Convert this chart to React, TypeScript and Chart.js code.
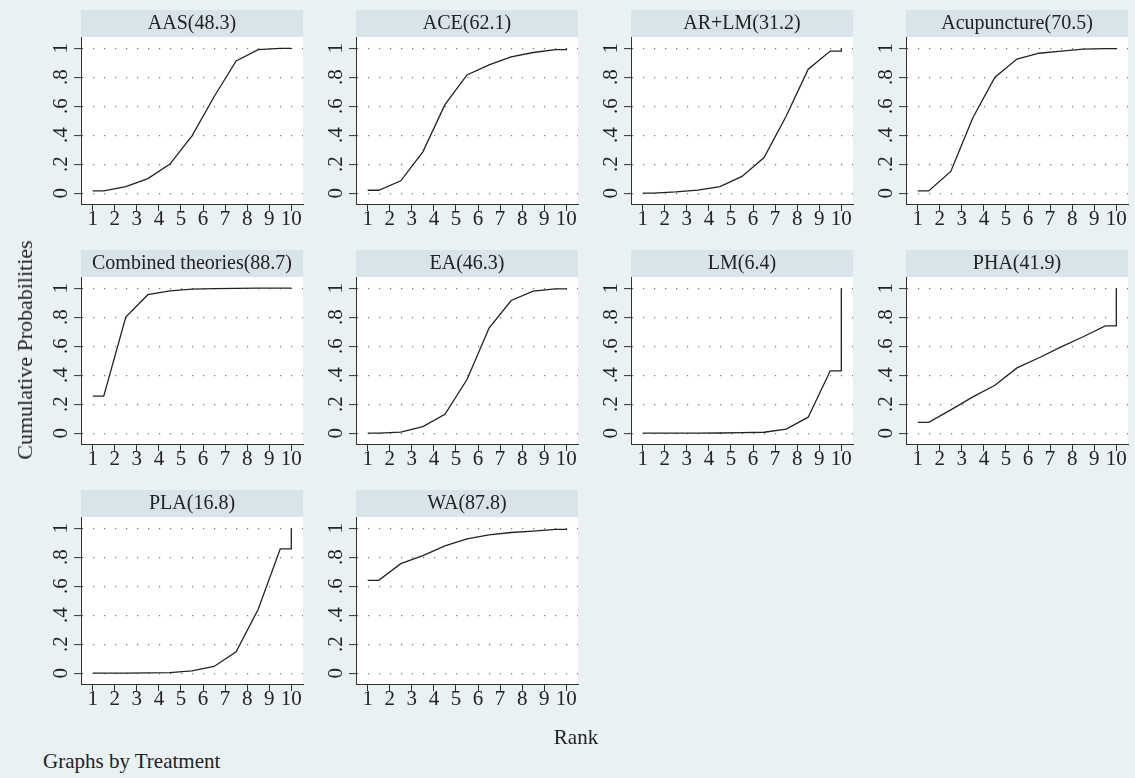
import React, { useEffect, useRef } from "react";
import { Chart, registerables } from "chart.js";

Chart.register(...registerables);

// ---------- data ----------
const treatments = ["AAS", "ACE", "AR+LM", "Acupuncture", "Combined theories", "EA", "LM", "PHA", "PLA", "WA"];
const sucraValues = [48.3, 62.1, 31.2, 70.5, 88.7, 46.3, 6.4, 41.9, 16.8, 87.8];
const ranks = [1, 2, 3, 4, 5, 6, 7, 8, 9, 10];

const cumAAS = [0.015, 0.045, 0.1, 0.2, 0.395, 0.665, 0.912, 0.99, 0.998, 1];
const cumACE = [0.02, 0.085, 0.285, 0.61, 0.815, 0.885, 0.94, 0.97, 0.99, 1];
const cumARLM = [0, 0.008, 0.02, 0.045, 0.115, 0.245, 0.53, 0.855, 0.98, 1];
const cumAcupuncture = [0.015, 0.15, 0.52, 0.8, 0.925, 0.965, 0.98, 0.993, 0.997, 1];
const cumCombined = [0.255, 0.8, 0.955, 0.982, 0.993, 0.997, 0.999, 1, 1, 1];
const cumEA = [0, 0.007, 0.045, 0.13, 0.37, 0.725, 0.915, 0.98, 0.995, 1];
const cumLM = [0, 0, 0, 0.001, 0.003, 0.006, 0.028, 0.11, 0.43, 1];
const cumPHA = [0.074, 0.16, 0.25, 0.33, 0.45, 0.52, 0.595, 0.665, 0.74, 1];
const cumPLA = [0, 0, 0.002, 0.004, 0.016, 0.046, 0.147, 0.441, 0.857, 1];
const cumWA = [0.64, 0.755, 0.811, 0.878, 0.926, 0.954, 0.97, 0.979, 0.991, 1];

const allCum = [cumAAS, cumACE, cumARLM, cumAcupuncture, cumCombined, cumEA, cumLM, cumPHA, cumPLA, cumWA];

const yTickValues = [0, 0.2, 0.4, 0.6, 0.8, 1];
const yTickLabels = ["0", ".2", ".4", ".6", ".8", "1"];

// ---------- style ----------
const FONT = "'Liberation Serif', 'Times New Roman', serif";
const BG = "#eaf1f3";
const STRIP = "#d8e4ea";
const INK = "#222222";
const AXIS = "#333333";
const COLS = 4;
const CW = 290;
const CH = 240;

function buildPoints(cum: number[]) {
  const pts: { x: number; y: number }[] = [];
  pts.push({ x: ranks[0], y: cum[0] });
  for (let i = 0; i < ranks.length - 1; i++) {
    pts.push({ x: ranks[i] + 0.5, y: cum[i] });
  }
  const last = ranks.length - 1;
  pts.push({ x: ranks[last], y: cum[last - 1] });
  pts.push({ x: ranks[last], y: cum[last] });
  return pts;
}

const panelBg = {
  id: "panelBg",
  beforeDraw(chart: any) {
    const { ctx, chartArea: a } = chart;
    const t = chart.titleBlock;
    ctx.save();
    if (t) {
      ctx.fillStyle = STRIP;
      ctx.fillRect(a.left, t.top, a.right - a.left, a.top - t.top);
    }
    ctx.fillStyle = "#ffffff";
    ctx.fillRect(a.left, a.top, a.right - a.left, a.bottom - a.top);
    ctx.restore();
  },
};

function Panel({ idx }: { idx: number }) {
  const ref = useRef<HTMLCanvasElement | null>(null);
  const row = Math.floor(idx / COLS);
  const col = idx % COLS;
  useEffect(() => {
    if (!ref.current) return;
    const chart = new Chart(ref.current, {
      type: "line",
      data: {
        datasets: [
          {
            data: buildPoints(allCum[idx]),
            borderColor: INK,
            borderWidth: 1.3,
            pointRadius: 0,
            tension: 0,
            fill: false,
          },
        ],
      },
      options: {
        animation: false,
        responsive: false,
        devicePixelRatio: 1,
        events: [],
        layout: { padding: { left: 0, right: 7, top: 5, bottom: 0 } },
        plugins: {
          legend: { display: false },
          tooltip: { enabled: false },
          title: {
            display: true,
            fullSize: false,
            text: `${treatments[idx]}(${sucraValues[idx].toFixed(1)})`,
            color: INK,
            font: { family: FONT, size: 20, weight: "normal", lineHeight: "24px" } as any,
            padding: { top: 1.5, bottom: 1.5 },
          },
        },
        scales: {
          x: {
            type: "linear",
            min: 0.47,
            max: 10.53,
            afterBuildTicks: (s: any) => {
              s.ticks = ranks.map((v) => ({ value: v }));
            },
            afterFit: (s: any) => {
              s.height = 41;
              s.paddingLeft = 0;
              s.paddingRight = 0;
            },
            ticks: {
              autoSkip: false,
              minRotation: 0,
              maxRotation: 0,
              padding: -2,
              color: INK,
              font: { family: FONT, size: 21, lineHeight: 1 },
              callback: (v: any) => String(v),
            },
            grid: {
              drawOnChartArea: false,
              drawTicks: true,
              tickLength: 7,
              tickColor: AXIS,
              tickWidth: 1,
            },
            border: { display: true, color: AXIS, width: 1 },
          },
          y: {
            type: "linear",
            min: -0.075,
            max: 1.077,
            afterBuildTicks: (s: any) => {
              s.ticks = yTickValues.map((v) => ({ value: v }));
            },
            afterFit: (s: any) => {
              s.width = 61;
              s.paddingTop = 0;
              s.paddingBottom = 0;
            },
            ticks: {
              minRotation: 90,
              maxRotation: 90,
              crossAlign: "center",
              padding: 5,
              color: INK,
              font: { family: FONT, size: 21, lineHeight: 1 },
              callback: (_v: any, i: number) => yTickLabels[i],
            },
            grid: {
              drawOnChartArea: true,
              drawTicks: true,
              tickLength: 7,
              color: "#777777",
              lineWidth: 1.2,
              tickColor: AXIS,
              tickWidth: 1,
              tickBorderDash: [],
            },
            border: { display: true, color: AXIS, width: 1, dash: [1.2, 9.8], dashOffset: 0 },
          },
        },
      } as any,
      plugins: [panelBg],
    });
    return () => chart.destroy();
  }, [idx]);
  return (
    <canvas
      ref={ref}
      width={CW}
      height={CH}
      style={{ position: "absolute", left: 20 + 275 * col, top: 5 + 240 * row, width: CW, height: CH }}
    />
  );
}

export default function App() {
  return (
    <div
      style={{
        position: "absolute",
        left: 0,
        top: 0,
        width: 1135,
        height: 778,
        background: BG,
        overflow: "hidden",
        fontFamily: FONT,
        color: INK,
      }}
    >
      {treatments.map((_, i) => (
        <Panel key={i} idx={i} />
      ))}
      <div
        style={{
          position: "absolute",
          left: 25,
          top: 350,
          transform: "translate(-50%, -50%) rotate(-90deg)",
          whiteSpace: "nowrap",
          fontSize: 22,
          lineHeight: 1,
        }}
      >
        Cumulative Probabilities
      </div>
      <div
        style={{
          position: "absolute",
          left: 576,
          top: 737,
          transform: "translate(-50%, -50%)",
          whiteSpace: "nowrap",
          fontSize: 21,
          lineHeight: 1,
        }}
      >
        Rank
      </div>
      <div
        style={{
          position: "absolute",
          left: 43,
          top: 761,
          transform: "translate(0, -50%)",
          whiteSpace: "nowrap",
          fontSize: 21,
          lineHeight: 1,
        }}
      >
        Graphs by Treatment
      </div>
    </div>
  );
}
